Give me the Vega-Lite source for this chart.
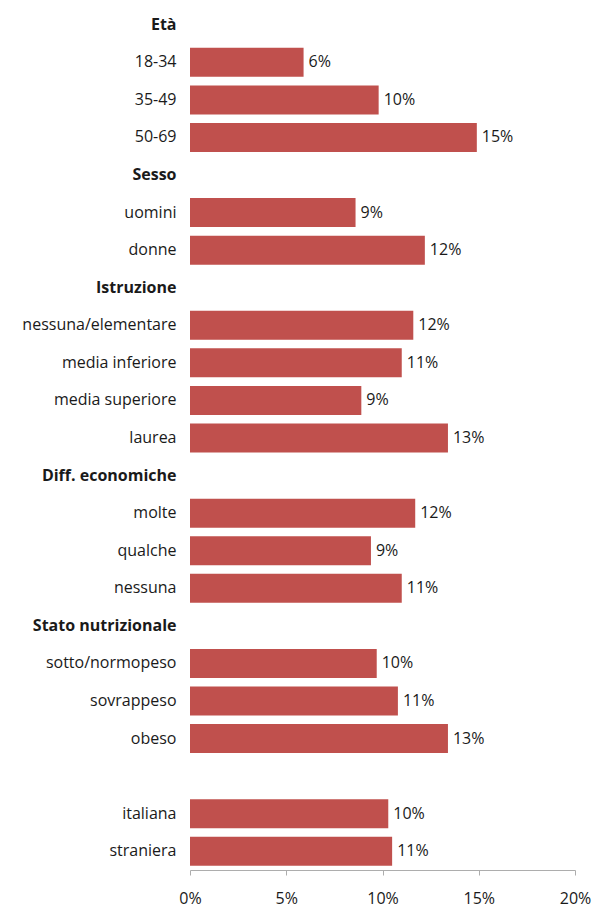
{
  "$schema": "https://vega.github.io/schema/vega-lite/v6.json",
  "autosize": {"type": "none"},
  "padding": {"left": 190, "top": 6, "right": 20, "bottom": 37},
  "width": 385,
  "height": 864,
  "background": "white",
  "data": {
    "values": [
      {"categoria": "Età", "valore": null},
      {"categoria": "18-34", "valore": 0.059},
      {"categoria": "35-49", "valore": 0.098},
      {"categoria": "50-69", "valore": 0.149},
      {"categoria": "Sesso", "valore": null},
      {"categoria": "uomini", "valore": 0.086},
      {"categoria": "donne", "valore": 0.122},
      {"categoria": "Istruzione", "valore": null},
      {"categoria": "nessuna/elementare", "valore": 0.116},
      {"categoria": "media inferiore", "valore": 0.110},
      {"categoria": "media superiore", "valore": 0.089},
      {"categoria": "laurea", "valore": 0.134},
      {"categoria": "Diff. economiche", "valore": null},
      {"categoria": "molte", "valore": 0.117},
      {"categoria": "qualche", "valore": 0.094},
      {"categoria": "nessuna", "valore": 0.110},
      {"categoria": "Stato nutrizionale", "valore": null},
      {"categoria": "sotto/normopeso", "valore": 0.097},
      {"categoria": "sovrappeso", "valore": 0.108},
      {"categoria": "obeso", "valore": 0.134},
      {"categoria": " ", "valore": null},
      {"categoria": "italiana", "valore": 0.103},
      {"categoria": "straniera", "valore": 0.105}
    ]
  },
  "encoding": {
    "y": {
      "field": "categoria",
      "type": "nominal",
      "sort": null,
      "scale": {
        "domain": ["Età", "18-34", "35-49", "50-69", "Sesso", "uomini", "donne", "Istruzione", "nessuna/elementare", "media inferiore", "media superiore", "laurea", "Diff. economiche", "molte", "qualche", "nessuna", "Stato nutrizionale", "sotto/normopeso", "sovrappeso", "obeso", " ", "italiana", "straniera"],
        "paddingInner": 0.228,
        "paddingOuter": 0.114
      },
      "axis": {
        "title": null,
        "domain": false,
        "ticks": false,
        "labelPadding": 14,
        "labelFont": "Open Sans",
        "labelFontSize": 16,
        "labelColor": "#1a1a1a",
        "labelLimit": 0,
        "labelFontWeight": {
          "condition": {"test": "indexof(['Età','Sesso','Istruzione','Diff. economiche','Stato nutrizionale'], datum.value) >= 0", "value": "bold"},
          "value": "normal"
        }
      }
    },
    "x": {
      "field": "valore",
      "type": "quantitative",
      "scale": {"domain": [0, 0.2], "nice": false},
      "axis": {
        "title": null,
        "format": ".0%",
        "values": [0, 0.05, 0.1, 0.15, 0.2],
        "grid": false,
        "domainColor": "#ADADAD",
        "tickColor": "#ADADAD",
        "tickSize": 5,
        "labelFlush": false,
        "labelOverlap": false,
        "labelPadding": 15,
        "labelFont": "Open Sans",
        "labelFontSize": 16,
        "labelColor": "#1a1a1a"
      }
    }
  },
  "layer": [
    {"mark": {"type": "bar", "color": "#C0504D"}},
    {
      "mark": {"type": "text", "align": "left", "dx": 5, "font": "Open Sans", "fontSize": 16, "color": "#1a1a1a"},
      "encoding": {"text": {"field": "valore", "type": "quantitative", "format": ".0%"}}
    }
  ],
  "config": {"view": {"stroke": null}}
}
